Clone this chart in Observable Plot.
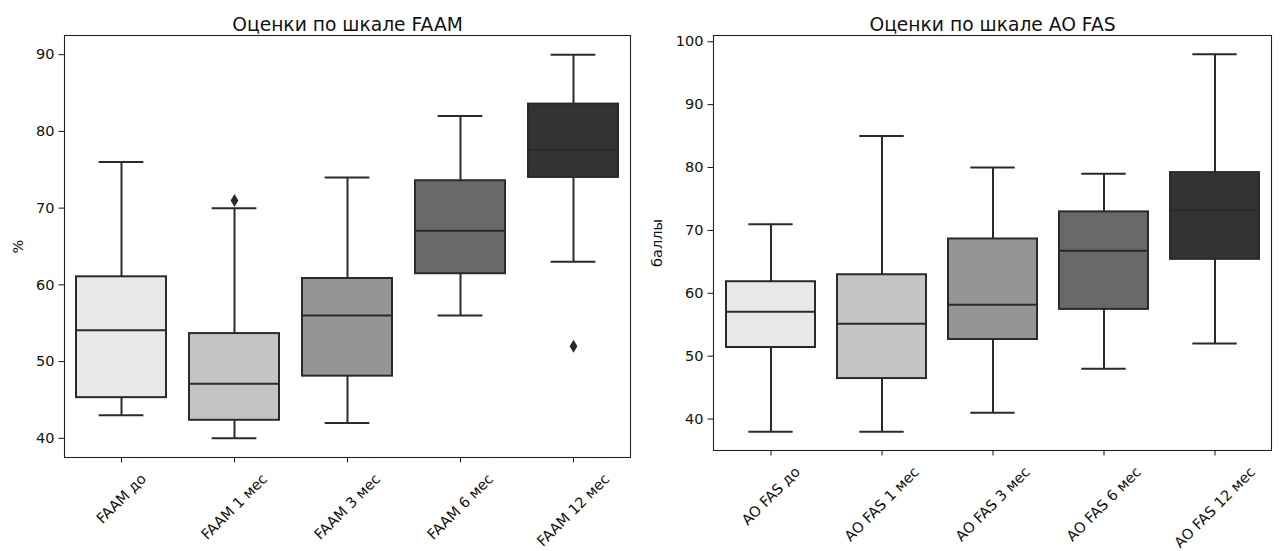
<!DOCTYPE html>
<html>
<head>
<meta charset="utf-8">
<script src="https://cdn.jsdelivr.net/npm/d3@7"></script>
<script src="https://cdn.jsdelivr.net/npm/@observablehq/plot@0.6"></script>
<style>
  html, body { margin: 0; padding: 0; background: #fff; }
  #wrap { position: relative; width: 1280px; height: 551px; overflow: hidden; }
  #left, #right { position: absolute; top: 0; }
  #left { left: 0; }
  #right { left: 640px; }
</style>
</head>
<body>
<div id="wrap"><div id="left"></div><div id="right"></div></div>
<script>
// ---- Data: FAAM (%) ----
const faamCats = ["FAAM до", "FAAM 1 мес", "FAAM 3 мес", "FAAM 6 мес", "FAAM 12 мес"];
const faamLow  = [43, 40, 42, 56, 63];
const faamQ1   = [45.3, 42.35, 48.1, 61.45, 74];
const faamMed  = [54.1, 47.1, 56, 67.05, 77.56];
const faamQ3   = [61.05, 53.65, 60.83, 73.57, 83.56];
const faamHigh = [76, 70, 74, 82, 90];
const faamOutCat = ["FAAM 1 мес", "FAAM 12 мес"];
const faamOutVal = [71, 52];
const faamTicks = [40, 50, 60, 70, 80, 90];

// ---- Data: AO FAS (баллы) ----
const aoCats = ["AO FAS до", "AO FAS 1 мес", "AO FAS 3 мес", "AO FAS 6 мес", "AO FAS 12 мес"];
const aoLow  = [38, 38, 41, 48, 52];
const aoQ1   = [51.38, 46.44, 52.65, 57.44, 65.4];
const aoMed  = [57.06, 55.14, 58.17, 66.78, 73.2];
const aoQ3   = [61.84, 62.95, 68.64, 72.95, 79.2];
const aoHigh = [71, 85, 80, 79, 98];
const aoOutCat = [];
const aoOutVal = [];
const aoTicks = [40, 50, 60, 70, 80, 90, 100];

const boxColors = ["#e8e8e8", "#c4c4c4", "#959595", "#696969", "#333333"];
const lineColor = "#2a2a2a";
const FONT = "'DejaVu Sans', sans-serif";
const FS = 14.5;
const TITLE_FS = 18.7;

const ctx = document.createElement("canvas").getContext("2d");
ctx.font = FS + "px 'DejaVu Sans'";
const measure = t => ctx.measureText(t).width;

const thinDiamond = {
  draw(c, size) {
    const r = Math.sqrt(size / Math.PI);
    const w = r * 0.6;
    c.moveTo(0, -r); c.lineTo(w, 0); c.lineTo(0, r); c.lineTo(-w, 0); c.closePath();
  }
};

function panel(o) {
  const rows = o.cats.map((c, i) => ({cat: c, low: o.low[i], q1: o.q1[i], med: o.med[i], q3: o.q3[i], high: o.high[i], fill: boxColors[i]}));
  const outs = o.outCat.map((c, i) => ({cat: c, v: o.outVal[i]}));
  const innerW = o.width - o.marginLeft - o.marginRight;
  const bw = innerW / o.cats.length * 0.8;
  const capInset = bw / 4;
  const labelMarks = o.cats.map(c => Plot.text([c], {
    x: d => d, text: d => d, frameAnchor: "bottom", rotate: -45,
    textAnchor: "middle", lineAnchor: "middle", fontSize: FS, fill: "#111",
    dy: 19 + measure(c) * 0.3536
  }));
  return Plot.plot({
    width: o.width, height: 551,
    marginTop: 35, marginLeft: o.marginLeft, marginRight: o.marginRight, marginBottom: o.marginBottom,
    style: {fontFamily: FONT, fontSize: FS + "px", color: "#111", background: "white"},
    x: {domain: o.cats, paddingInner: 0.2, paddingOuter: 0.1, align: 0.5},
    y: {domain: o.domain},
    color: {type: "identity"},
    marks: [
      Plot.axisY({ticks: o.ticks, tickSize: 5.5, tickPadding: 4.5, label: null, tickFormat: d => String(d)}),
      Plot.axisX({tickSize: 5.5, tickFormat: () => "", label: null}),
      Plot.ruleX(rows, {x: "cat", y1: "low", y2: "q1", stroke: lineColor, strokeWidth: 2}),
      Plot.ruleX(rows, {x: "cat", y1: "q3", y2: "high", stroke: lineColor, strokeWidth: 2}),
      Plot.tickY(rows, {x: "cat", y: "low", insetLeft: capInset, insetRight: capInset, stroke: lineColor, strokeWidth: 2}),
      Plot.tickY(rows, {x: "cat", y: "high", insetLeft: capInset, insetRight: capInset, stroke: lineColor, strokeWidth: 2}),
      Plot.barY(rows, {x: "cat", y1: "q1", y2: "q3", fill: "fill", stroke: lineColor, strokeWidth: 2}),
      Plot.tickY(rows, {x: "cat", y: "med", stroke: lineColor, strokeWidth: 2}),
      Plot.dot(outs, {x: "cat", y: "v", symbol: thinDiamond, r: 6.5, fill: lineColor, stroke: null}),
      Plot.frame({stroke: "#222", strokeWidth: 1.1}),
      ...labelMarks,
      Plot.text([o.title], {frameAnchor: "top", lineAnchor: "bottom", dy: -5, fontSize: TITLE_FS, fill: "#111"}),
      Plot.text([o.ylabel], {frameAnchor: "left", dx: o.ylabelDx, rotate: -90, textAnchor: "middle", lineAnchor: "middle", fontSize: FS, fill: "#111"})
    ]
  });
}

document.getElementById("left").appendChild(panel({
  cats: faamCats, low: faamLow, q1: faamQ1, med: faamMed, q3: faamQ3, high: faamHigh,
  outCat: faamOutCat, outVal: faamOutVal, ticks: faamTicks, domain: [37.5, 92.5],
  title: "Оценки по шкале FAAM", ylabel: "%", ylabelDx: -46,
  width: 640, marginLeft: 64, marginRight: 10, marginBottom: 94
}));

document.getElementById("right").appendChild(panel({
  cats: aoCats, low: aoLow, q1: aoQ1, med: aoMed, q3: aoQ3, high: aoHigh,
  outCat: aoOutCat, outVal: aoOutVal, ticks: aoTicks, domain: [35, 101],
  title: "Оценки по шкале AO FAS", ylabel: "баллы", ylabelDx: -56,
  width: 640, marginLeft: 73, marginRight: 9, marginBottom: 101
}));
</script>
</body>
</html>
